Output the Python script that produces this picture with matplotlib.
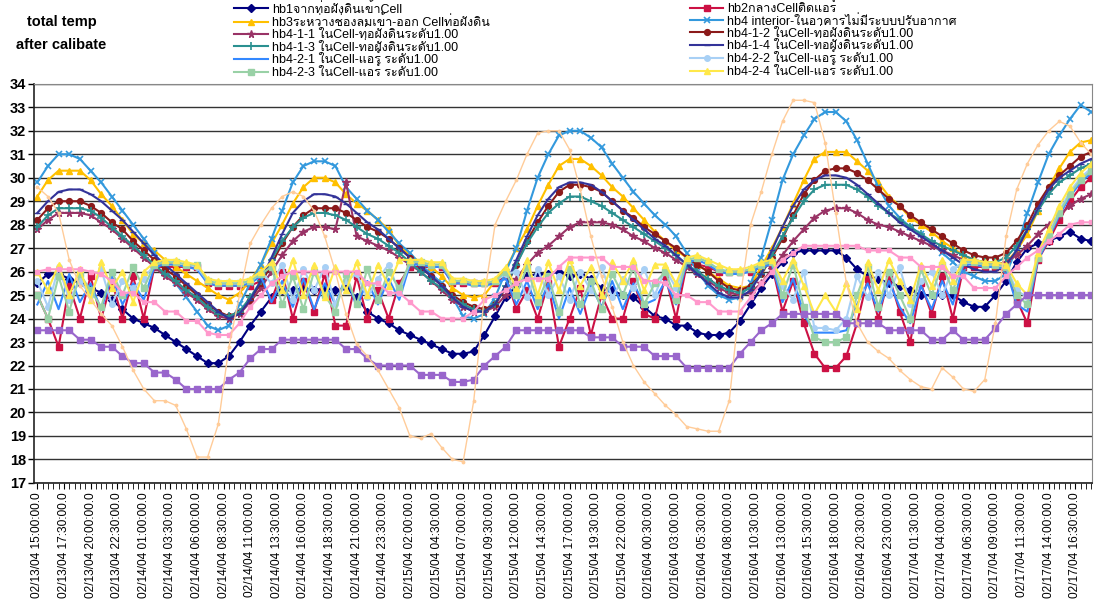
import numpy as np
import matplotlib
matplotlib.use("Agg")
import matplotlib.pyplot as plt
from matplotlib import font_manager as fm
from matplotlib.ft2font import FT2Font

# ---------------- data (hourly readings from 02/13/04 15:00) ----------------
tick_labels = [
    "02/13/04 15:00:00.0", "02/13/04 17:30:00.0", "02/13/04 20:00:00.0", "02/13/04 22:30:00.0",
    "02/14/04 01:00:00.0", "02/14/04 03:30:00.0", "02/14/04 06:00:00.0", "02/14/04 08:30:00.0",
    "02/14/04 11:00:00.0", "02/14/04 13:30:00.0", "02/14/04 16:00:00.0", "02/14/04 18:30:00.0",
    "02/14/04 21:00:00.0", "02/14/04 23:30:00.0", "02/15/04 02:00:00.0", "02/15/04 04:30:00.0",
    "02/15/04 07:00:00.0", "02/15/04 09:30:00.0", "02/15/04 12:00:00.0", "02/15/04 14:30:00.0",
    "02/15/04 17:00:00.0", "02/15/04 19:30:00.0", "02/15/04 22:00:00.0", "02/16/04 00:30:00.0",
    "02/16/04 03:00:00.0", "02/16/04 05:30:00.0", "02/16/04 08:00:00.0", "02/16/04 10:30:00.0",
    "02/16/04 13:00:00.0", "02/16/04 15:30:00.0", "02/16/04 18:00:00.0", "02/16/04 20:30:00.0",
    "02/16/04 23:00:00.0", "02/17/04 01:30:00.0", "02/17/04 04:00:00.0", "02/17/04 06:30:00.0",
    "02/17/04 09:00:00.0", "02/17/04 11:30:00.0", "02/17/04 14:00:00.0", "02/17/04 16:30:00.0",
]

hb1 = [
    25.5, 25.9, 25.9, 25.7, 25.5, 25.3, 25.1, 24.8, 24.4, 24.0,
    23.8, 23.6, 23.3, 23.0, 22.7, 22.4, 22.1, 22.1, 22.4, 23.0,
    23.7, 24.3, 24.9, 25.2, 25.2, 25.3, 25.2, 25.3, 25.2, 25.3,
    24.9, 24.3, 24.0, 23.8, 23.5, 23.3, 23.1, 22.9, 22.7, 22.5,
    22.5, 22.6, 23.3, 24.1, 24.9, 25.4, 25.8, 25.9, 25.9, 26.0,
    25.8, 25.9, 25.7, 25.3, 25.2, 25.0, 24.9, 24.5, 24.1, 24.0,
    23.7, 23.7, 23.4, 23.3, 23.3, 23.4, 23.9, 24.6, 25.3, 25.9,
    26.4, 26.8, 26.9, 26.9, 26.9, 26.9, 26.6, 26.1, 25.8, 25.7,
    25.5, 25.4, 25.2, 25.0, 25.0, 25.0, 25.0, 24.7, 24.5, 24.5,
    25.0, 25.6, 26.4, 27.0, 27.2, 27.3, 27.5, 27.7, 27.4, 27.3]

hb2 = [
    25.0, 24.0, 22.8, 25.4, 24.0, 25.8, 24.0, 25.6, 24.0, 25.8,
    24.0, 26.2, 26.2, 26.2, 26.2, 26.2, 25.5, 25.4, 25.4, 25.4,
    25.4, 25.6, 24.8, 26.0, 24.0, 25.6, 24.3, 25.9, 23.7, 23.7,
    25.8, 24.0, 25.2, 24.0, 25.5, 26.2, 26.2, 26.2, 26.2, 25.5,
    25.5, 25.5, 25.5, 25.5, 25.8, 24.4, 25.2, 24.0, 25.5, 22.8,
    24.0, 25.3, 23.3, 25.0, 24.0, 24.0, 25.6, 24.2, 24.0, 25.8,
    24.0, 26.3, 26.3, 26.2, 26.0, 26.0, 26.0, 26.0, 26.2, 26.3,
    24.3, 25.6, 23.8, 22.5, 21.9, 21.9, 22.4, 23.8, 25.7, 24.0,
    25.8, 24.3, 23.0, 25.5, 24.2, 25.8, 24.0, 26.2, 26.2, 26.2,
    26.2, 26.0, 24.8, 23.8, 26.5, 27.3, 28.2, 29.0, 29.6, 30.0]

hb3 = [
    29.2, 29.9, 30.3, 30.3, 30.3, 29.9, 29.3, 28.8, 28.2, 27.6,
    27.2, 26.9, 26.5, 26.2, 25.9, 25.6, 25.3, 25.0, 24.8, 25.1,
    25.6, 26.3, 27.2, 28.0, 28.9, 29.6, 30.0, 30.0, 29.8, 29.3,
    28.9, 28.6, 28.2, 27.8, 27.1, 26.7, 26.4, 26.2, 25.8, 25.3,
    25.0, 24.9, 25.0, 25.6, 26.1, 27.0, 27.8, 28.8, 29.7, 30.5,
    30.8, 30.8, 30.5, 30.1, 29.6, 29.2, 28.7, 28.2, 27.7, 27.3,
    26.9, 26.6, 26.3, 26.0, 25.7, 25.4, 25.3, 25.4, 26.2, 27.0,
    27.9, 28.9, 29.9, 30.8, 31.1, 31.1, 31.1, 30.7, 30.3, 29.8,
    29.2, 28.8, 28.3, 28.0, 27.7, 27.3, 27.0, 26.7, 26.5, 26.4,
    26.3, 26.4, 26.9, 27.6, 28.6, 29.6, 30.4, 31.1, 31.5, 31.6]

hb4_interior = [
    29.8, 30.5, 31.0, 31.0, 30.8, 30.3, 29.8, 29.2, 28.6, 28.0,
    27.4, 26.8, 26.1, 25.5, 24.9, 24.3, 23.7, 23.5, 23.7, 24.6,
    25.5, 26.3, 27.4, 28.6, 29.8, 30.5, 30.7, 30.7, 30.5, 29.6,
    29.1, 28.6, 28.2, 27.7, 27.2, 26.8, 26.3, 25.9, 25.5, 24.9,
    24.1, 24.0, 24.2, 24.9, 26.0, 27.0, 28.6, 30.0, 31.0, 31.8,
    32.0, 32.0, 31.7, 31.3, 30.6, 30.0, 29.4, 28.9, 28.4, 28.0,
    27.5, 26.8, 26.0, 25.4, 25.0, 24.8, 24.9, 25.5, 26.6, 28.2,
    29.9, 31.0, 31.8, 32.5, 32.8, 32.8, 32.4, 31.6, 30.6, 29.6,
    28.8, 28.3, 27.9, 27.6, 27.2, 26.8, 26.4, 26.0, 25.8, 25.6,
    25.6, 25.9, 27.0, 28.5, 29.8, 31.0, 31.8, 32.5, 33.1, 32.8]

hb4_1_1 = [
    27.8, 28.2, 28.5, 28.5, 28.5, 28.4, 28.1, 27.8, 27.4, 27.0,
    26.6, 26.2, 25.8, 25.5, 25.1, 24.8, 24.4, 24.1, 24.0, 24.2,
    24.7, 25.3, 26.0, 26.7, 27.3, 27.7, 27.9, 27.9, 27.8, 29.8,
    27.5, 27.3, 27.1, 26.9, 26.6, 26.3, 26.0, 25.6, 25.2, 24.8,
    24.5, 24.3, 24.3, 24.5, 25.0, 25.7, 26.3, 26.8, 27.1, 27.5,
    27.9, 28.1, 28.1, 28.1, 28.0, 27.8, 27.5, 27.3, 27.0, 26.8,
    26.5, 26.2, 25.9, 25.6, 25.3, 25.1, 25.0, 25.1, 25.5, 26.1,
    26.7, 27.3, 27.8, 28.3, 28.6, 28.7, 28.7, 28.5, 28.2, 28.0,
    27.9, 27.7, 27.5, 27.3, 27.1, 26.9, 26.7, 26.5, 26.4, 26.3,
    26.3, 26.4, 26.7, 27.1, 27.6, 28.0, 28.4, 28.8, 29.1, 29.3]

hb4_1_2 = [
    28.2, 28.7, 29.0, 29.0, 29.0, 28.8, 28.5, 28.1, 27.8, 27.3,
    26.9, 26.5, 26.1, 25.8, 25.4, 25.0, 24.6, 24.3, 24.1, 24.3,
    24.8, 25.5, 26.3, 27.2, 27.9, 28.4, 28.7, 28.7, 28.7, 28.5,
    28.2, 27.9, 27.7, 27.4, 27.0, 26.6, 26.2, 25.8, 25.4, 25.0,
    24.7, 24.5, 24.4, 24.6, 25.3, 26.3, 27.3, 28.1, 28.8, 29.4,
    29.7, 29.7, 29.6, 29.4, 29.0, 28.6, 28.3, 27.9, 27.6, 27.3,
    27.0, 26.6, 26.3, 26.0, 25.6, 25.3, 25.2, 25.4, 25.9, 26.6,
    27.4, 28.4, 29.3, 29.9, 30.3, 30.4, 30.4, 30.2, 29.9, 29.5,
    29.1, 28.8, 28.4, 28.1, 27.8, 27.5, 27.2, 26.9, 26.7, 26.6,
    26.6, 26.8, 27.3, 28.0, 28.9, 29.6, 30.1, 30.5, 30.9, 31.1]

hb4_1_3 = [
    27.9, 28.4, 28.7, 28.7, 28.7, 28.6, 28.3, 27.9, 27.5, 27.1,
    26.7, 26.3, 25.9, 25.6, 25.2, 24.9, 24.5, 24.2, 24.1, 24.3,
    24.9, 25.6, 26.5, 27.3, 27.9, 28.3, 28.5, 28.5, 28.4, 28.2,
    27.9, 27.6, 27.4, 27.1, 26.8, 26.4, 26.0, 25.6, 25.3, 24.9,
    24.6, 24.4, 24.3, 24.6, 25.4, 26.3, 27.2, 27.9, 28.5, 28.9,
    29.2, 29.2, 29.0, 28.8, 28.5, 28.2, 27.9, 27.6, 27.3, 27.0,
    26.7, 26.3, 26.0, 25.7, 25.4, 25.2, 25.1, 25.3, 25.9, 26.7,
    27.5, 28.3, 29.0, 29.5, 29.7, 29.7, 29.7, 29.5, 29.2, 28.8,
    28.5, 28.2, 27.9, 27.6, 27.3, 27.1, 26.9, 26.7, 26.5, 26.4,
    26.4, 26.6, 27.1, 27.8, 28.6, 29.3, 29.8, 30.1, 30.4, 30.6]

hb4_1_4 = [
    28.5, 29.0, 29.4, 29.5, 29.5, 29.3, 29.0, 28.6, 28.2, 27.7,
    27.2, 26.7, 26.3, 25.9, 25.5, 25.1, 24.7, 24.3, 24.0, 24.2,
    24.8, 25.6, 26.6, 27.6, 28.5, 29.0, 29.3, 29.3, 29.2, 28.9,
    28.5, 28.1, 27.8, 27.4, 27.0, 26.6, 26.2, 25.8, 25.4, 24.9,
    24.5, 24.3, 24.3, 24.6, 25.4, 26.5, 27.5, 28.4, 29.1, 29.6,
    29.8, 29.8, 29.7, 29.4, 29.0, 28.6, 28.2, 27.8, 27.4, 27.1,
    26.7, 26.3, 25.9, 25.5, 25.1, 24.9, 24.9, 25.2, 25.9, 26.9,
    27.9, 28.8, 29.5, 29.9, 30.1, 30.1, 30.0, 29.7, 29.3, 28.9,
    28.5, 28.1, 27.8, 27.5, 27.2, 26.9, 26.6, 26.3, 26.1, 26.0,
    26.0, 26.3, 26.9, 27.8, 28.7, 29.5, 30.0, 30.3, 30.6, 30.8]

hb4_2_1 = [
    24.6, 25.6, 24.4, 25.9, 24.7, 25.5, 24.4, 25.8, 24.6, 25.5,
    24.8, 26.2, 26.3, 26.3, 26.2, 26.1, 25.5, 25.4, 25.4, 25.4,
    25.5, 25.8, 24.7, 25.6, 24.5, 25.7, 24.4, 25.5, 24.6, 25.8,
    24.5, 25.6, 24.6, 25.7, 24.8, 26.3, 26.3, 26.2, 26.2, 25.5,
    25.5, 25.4, 25.4, 25.5, 25.7, 24.6, 25.6, 24.4, 25.5, 24.0,
    25.3, 24.2, 25.4, 24.5, 25.6, 24.4, 25.5, 24.6, 24.8, 25.6,
    24.6, 26.4, 26.5, 26.3, 26.0, 25.9, 25.9, 26.0, 26.2, 26.3,
    24.7, 25.7, 24.2, 23.4, 23.4, 23.4, 23.5, 24.6, 25.5, 24.3,
    25.6, 24.5, 23.8, 25.4, 24.4, 25.6, 24.6, 26.3, 26.3, 26.2,
    26.2, 26.1, 24.6, 24.3, 26.5, 27.4, 28.4, 29.2, 29.8, 30.2]

hb4_2_2 = [
    25.6, 24.5, 26.2, 24.8, 25.6, 25.0, 26.1, 24.6, 25.6, 25.3,
    25.7, 26.3, 26.4, 26.4, 26.3, 26.2, 25.6, 25.5, 25.5, 25.5,
    25.6, 26.0, 25.5, 26.3, 24.8, 26.1, 25.2, 26.2, 24.6, 25.6,
    25.9, 24.9, 25.7, 26.3, 25.1, 26.4, 26.4, 26.3, 26.3, 25.6,
    25.6, 25.5, 25.5, 25.6, 25.9, 26.0, 24.9, 26.1, 25.0, 25.8,
    24.8, 26.0, 25.2, 26.2, 24.9, 25.7, 25.3, 26.1, 25.0, 26.1,
    25.3, 26.5, 26.6, 26.4, 26.1, 26.0, 26.0, 26.1, 26.3, 26.4,
    25.4, 24.8, 26.0, 23.6, 23.6, 23.5, 24.0, 25.8, 24.9, 26.0,
    25.0, 26.2, 24.6, 25.6, 26.0, 25.0, 26.1, 26.4, 26.4, 26.3,
    26.3, 26.2, 25.2, 24.9, 26.6, 27.6, 28.6, 29.4, 30.0, 30.4]

hb4_2_3 = [
    25.0, 24.0, 25.8, 24.3, 25.9, 25.2, 24.5, 26.0, 25.0, 26.2,
    25.3, 26.3, 26.4, 26.4, 26.3, 26.3, 25.6, 25.5, 25.5, 25.5,
    25.6, 25.9, 26.2, 24.6, 25.8, 24.4, 26.0, 25.0, 24.3, 25.9,
    24.6, 26.1, 24.8, 26.0, 25.3, 26.4, 26.4, 26.3, 26.3, 25.6,
    25.6, 25.5, 25.5, 25.6, 26.0, 25.0, 26.2, 24.7, 25.8, 24.3,
    26.1, 24.6, 25.6, 24.4, 25.9, 25.0, 26.2, 24.6, 25.5, 26.0,
    24.8, 26.5, 26.6, 26.4, 26.1, 26.0, 26.0, 26.1, 26.3, 26.4,
    25.0, 26.3, 24.5, 23.2, 23.0, 23.0, 23.2, 25.0, 26.2, 24.5,
    26.0, 25.0, 24.0, 26.1, 25.0, 26.3, 25.2, 26.4, 26.4, 26.3,
    26.3, 26.2, 25.0, 24.6, 26.6, 27.5, 28.5, 29.3, 29.9, 30.3]

hb4_2_4 = [
    26.0, 25.2, 26.3, 25.0, 26.1, 24.8, 26.4, 25.3, 26.0, 24.7,
    26.0, 26.4, 26.5, 26.5, 26.4, 26.3, 25.7, 25.6, 25.6, 25.6,
    25.7, 26.0, 26.4, 25.2, 26.5, 25.0, 26.3, 24.9, 26.2, 25.2,
    26.4, 25.0, 26.3, 25.4, 26.5, 26.5, 26.5, 26.4, 26.4, 25.7,
    25.7, 25.6, 25.6, 25.7, 26.2, 25.3, 26.5, 25.0, 26.4, 25.2,
    26.5, 25.4, 26.2, 25.0, 26.4, 25.6, 26.5, 25.2, 26.3, 26.3,
    25.5, 26.6, 26.7, 26.5, 26.3, 26.1, 26.1, 26.2, 26.4, 26.5,
    25.6, 26.5, 25.4, 24.2, 25.0, 24.3, 25.5, 24.4, 26.4, 25.2,
    26.5, 25.6, 24.8, 26.3, 25.4, 26.5, 25.6, 26.5, 26.5, 26.4,
    26.4, 26.3, 25.5, 25.0, 26.8, 27.8, 28.8, 29.6, 30.2, 30.6]

extra_purple = [
    23.5, 23.5, 23.5, 23.5, 23.1, 23.1, 22.8, 22.8, 22.4, 22.1,
    22.1, 21.7, 21.7, 21.4, 21.0, 21.0, 21.0, 21.0, 21.4, 21.7,
    22.3, 22.7, 22.7, 23.1, 23.1, 23.1, 23.1, 23.1, 23.1, 22.7,
    22.7, 22.3, 22.0, 22.0, 22.0, 22.0, 21.6, 21.6, 21.6, 21.3,
    21.3, 21.4, 22.0, 22.4, 22.8, 23.5, 23.5, 23.5, 23.5, 23.5,
    23.5, 23.5, 23.2, 23.2, 23.2, 22.8, 22.8, 22.8, 22.4, 22.4,
    22.4, 21.9, 21.9, 21.9, 21.9, 21.9, 22.5, 23.0, 23.5, 23.8,
    24.2, 24.2, 24.2, 24.2, 24.2, 24.2, 23.8, 23.8, 23.8, 23.8,
    23.5, 23.5, 23.5, 23.5, 23.1, 23.1, 23.5, 23.1, 23.1, 23.1,
    23.6, 24.2, 24.6, 25.0, 25.0, 25.0, 25.0, 25.0, 25.0, 25.0]

extra_pink = [
    26.0, 26.1, 26.1, 26.1, 26.1, 26.0, 25.9, 25.6, 25.1, 25.1,
    24.7, 24.7, 24.3, 24.3, 23.9, 23.9, 23.4, 23.3, 23.3, 23.8,
    24.5, 25.0, 25.5, 25.8, 26.0, 26.0, 26.0, 26.0, 26.0, 26.0,
    26.0, 25.5, 25.5, 25.1, 25.1, 24.7, 24.3, 24.3, 24.0, 24.0,
    24.0, 24.3, 24.8, 25.0, 25.2, 25.5, 25.7, 25.7, 25.7, 26.2,
    26.6, 26.6, 26.6, 26.6, 26.2, 26.2, 26.2, 25.6, 25.6, 25.5,
    25.0, 25.0, 24.7, 24.7, 24.3, 24.3, 24.3, 24.9, 25.5, 26.0,
    26.5, 26.8, 27.1, 27.1, 27.1, 27.1, 27.1, 27.1, 26.9, 26.9,
    26.9, 26.6, 26.6, 26.2, 26.2, 26.2, 25.8, 25.8, 25.3, 25.3,
    25.3, 25.8, 26.2, 26.6, 26.9, 27.3, 27.6, 28.0, 28.1, 28.1]

extra_peach = [
    29.6, 29.2, 28.5, 26.5, 25.4, 24.8, 24.2, 23.7, 22.8, 21.8,
    21.0, 20.5, 20.5, 20.3, 19.3, 18.1, 18.1, 19.5, 22.8, 25.0,
    27.2, 28.0, 28.7, 29.2, 29.4, 29.2, 28.6, 27.5, 26.0, 24.2,
    22.9, 22.4, 21.8, 21.0, 20.2, 19.0, 18.9, 19.1, 18.5, 18.0,
    17.9, 20.5, 25.0, 28.0, 29.0, 29.9, 31.0, 31.9, 32.0, 32.0,
    31.2, 29.5, 27.5, 25.8, 24.5, 23.0, 22.0, 21.3, 20.8, 20.3,
    19.9, 19.4, 19.3, 19.2, 19.2, 20.5, 24.8, 28.0, 29.4, 31.0,
    32.4, 33.3, 33.3, 33.2, 31.5, 28.5, 25.5, 23.8, 23.0, 22.6,
    22.3, 21.8, 21.4, 21.1, 21.0, 21.9, 21.5, 21.0, 20.9, 21.4,
    23.8, 27.5, 29.5, 30.6, 31.4, 32.0, 32.4, 32.2, 31.5, 31.0]

names = {
    "hb1": "hb1จากท่อฝังดินเข้าCell",
    "hb2": "hb2กลางCellติดแอร์",
    "hb3": "hb3ระหว่างช่องลมเข้า-ออก Cellท่อฝังดิน",
    "int": "hb4 interior-ในอาคารไม่มีระบบปรับอากาศ",
    "411": "hb4-1-1 ในCell-ท่อฝังดินระดับ1.00",
    "412": "hb4-1-2 ในCell-ท่อฝังดินระดับ1.00",
    "413": "hb4-1-3 ในCell-ท่อฝังดินระดับ1.00",
    "414": "hb4-1-4 ในCell-ท่อฝังดินระดับ1.00",
    "421": "hb4-2-1 ในCell-แอร์ ระดับ1.00",
    "422": "hb4-2-2 ในCell-แอร์ ระดับ1.00",
    "423": "hb4-2-3 ในCell-แอร์ ระดับ1.00",
    "424": "hb4-2-4 ในCell-แอร์ ระดับ1.00",
}

# ---------------- fonts ----------------
def thai_families():
    fams = []
    for f in fm.fontManager.ttflist:
        try:
            cmap = FT2Font(f.fname).get_charmap()
        except Exception:
            continue
        if 0x0E01 in cmap and 0x0E14 in cmap and f.name not in fams:
            fams.append(f.name)
    return fams

fam = ["Liberation Sans"] + thai_families() + ["DejaVu Sans"]
plt.rcParams["font.family"] = fam

# ---------------- figure ----------------
fig = plt.figure(figsize=(11, 6.12), dpi=100)
ax = fig.add_axes([0.031, 0.211, 0.962, 0.652])

hours = np.arange(len(hb1))

LW = 1.5
series = [
    ("hb1", hb1, dict(color="#000080", marker="D", ms=3.6)),
    ("hb2", hb2, dict(color="#CC1144", marker="s", ms=4.5)),
    ("hb3", hb3, dict(color="#FFC000", marker="^", ms=5.0)),
    ("int", hb4_interior, dict(color="#3399DD", marker="x", ms=4.5, mew=1.2)),
    ("411", hb4_1_1, dict(color="#993366", marker="*", ms=5.5)),
    ("412", hb4_1_2, dict(color="#8B1A1A", marker="o", ms=4.2)),
    ("413", hb4_1_3, dict(color="#2A9090", marker="+", ms=5.5, mew=1.2)),
    ("414", hb4_1_4, dict(color="#333399", marker="_", ms=4.5)),
    ("421", hb4_2_1, dict(color="#3388FF", marker=None)),
    ("422", hb4_2_2, dict(color="#A8D0F5", marker="o", ms=4.0)),
    ("423", hb4_2_3, dict(color="#99D1A6", marker="s", ms=4.5)),
    ("424", hb4_2_4, dict(color="#FFE84A", marker="^", ms=4.5)),
]

handles = {}
for key, vals, st in series:
    ln, = ax.plot(hours, vals, label=names[key], lw=LW, **st)
    handles[key] = ln

ax.plot(hours, extra_purple, color="#9966CC", marker="s", ms=3.8, lw=LW)
ax.plot(hours, extra_pink, color="#FF99CC", marker="s", ms=3.5, lw=LW)
ax.plot(hours, extra_peach, color="#FFCC99", marker=".", ms=3.5, lw=1.0)

# axes styling
ax.set_ylim(17, 34)
ax.set_xlim(-0.3, 99.1)
ax.set_yticks(np.arange(17, 35, 1))
ax.yaxis.grid(True, color="#333333", lw=1.0)
ax.set_axisbelow(True)
for lab in ax.get_yticklabels():
    lab.set_fontweight("bold")
ax.tick_params(axis="y", labelsize=10.5, length=4, width=1, pad=2)

major_pos = [2.5 * i for i in range(len(tick_labels))]
ax.set_xticks(major_pos)
ax.set_xticklabels(tick_labels, rotation=90, fontsize=8.6)
ax.set_xticks(np.arange(0, 99.1, 0.5), minor=True)
ax.tick_params(axis="x", which="major", length=4, width=0.8, pad=3)
ax.tick_params(axis="x", which="minor", length=4, width=0.6)

for side in ["top", "right"]:
    ax.spines[side].set_color("#888888")
for side in ["left", "bottom"]:
    ax.spines[side].set_color("#222222")
    ax.spines[side].set_linewidth(1.2)

# title
fig.text(0.056, 0.975, "total temp\nafter calibate", ha="center", va="top",
         fontsize=10.5, fontweight="bold", linespacing=1.75)

# legends (two columns)
left_keys = ["hb1", "hb3", "411", "413", "421", "423"]
right_keys = ["hb2", "int", "412", "414", "422", "424"]
common = dict(fontsize=9.0, frameon=False, labelspacing=-0.05, handlelength=2.7,
              handletextpad=0.3, borderpad=0.0, borderaxespad=0.0, loc="upper left")
leg1 = fig.legend([handles[k] for k in left_keys], [names[k] for k in left_keys],
                  bbox_to_anchor=(0.213, 0.997), **common)
leg2 = fig.legend([handles[k] for k in right_keys], [names[k] for k in right_keys],
                  bbox_to_anchor=(0.627, 0.997), **common)

fig.savefig("out.png", dpi=100)
